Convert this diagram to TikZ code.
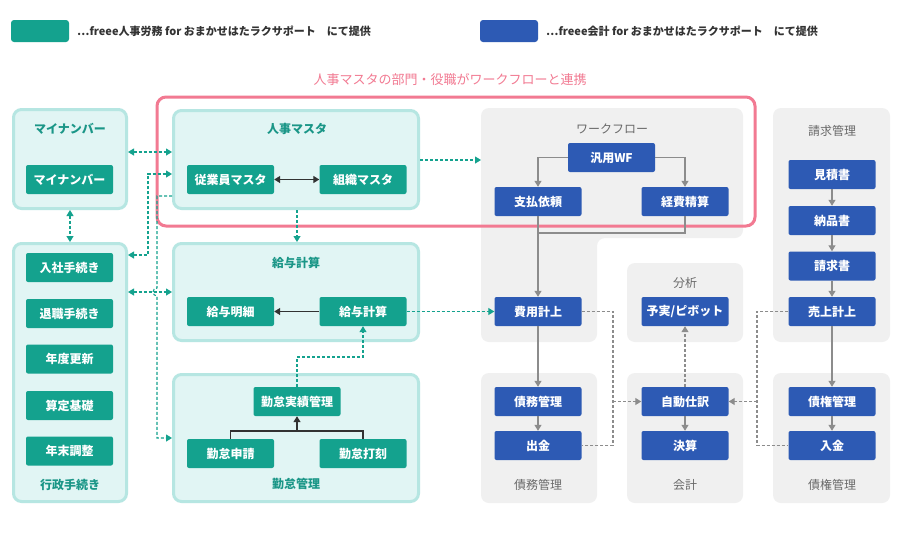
\documentclass[tikz,border=0pt]{standalone}
\usepackage{fontspec}
\setmainfont{Noto Sans CJK JP}
\usetikzlibrary{arrows.meta}
\definecolor{teal1}{RGB}{20,162,142}
\definecolor{tpfill}{RGB}{225,245,244}
\definecolor{tpline}{RGB}{182,230,226}
\definecolor{blue1}{RGB}{45,90,180}
\definecolor{gpfill}{RGB}{240,240,240}
\definecolor{gline}{RGB}{140,140,140}
\definecolor{pink1}{RGB}{242,122,146}
\definecolor{dark1}{RGB}{50,50,50}
\definecolor{ttext}{RGB}{26,150,135}
\definecolor{gtext}{RGB}{105,105,105}
\definecolor{ltext}{RGB}{51,51,51}
\tikzset{
  tbox/.style={fill=teal1,text=white,font=\bfseries\fontsize{12}{12}\selectfont,rounded corners=2,minimum width=87,minimum height=29,inner sep=0},
  bbox/.style={tbox,fill=blue1},
  tpanel/.style={fill=tpfill,draw=tpline,line width=3,rounded corners=8,inner sep=0},
  gpanel/.style={fill=gpfill,rounded corners=8,inner sep=0},
  ttitle/.style={text=ttext,font=\bfseries\fontsize{12}{12}\selectfont,inner sep=0},
  gtitle/.style={text=gtext,font=\fontsize{12}{12}\selectfont,inner sep=0},
  tdash/.style={draw=teal1,line width=1.1,dash pattern=on 3 off 2},
  gdash/.style={draw=gline,line width=1.1,dash pattern=on 3 off 2},
  gsolid/.style={draw=gline,line width=1.2},
  dsolid/.style={draw=dark1,line width=1.3},
  tip/.style={-{Triangle[width=7,length=6]}},
  tips/.style={{Triangle[width=7,length=6]}-{Triangle[width=7,length=6]}}
}
\begin{document}
\begin{tikzpicture}[x=1pt,y=-1pt]
\useasboundingbox (0,0) rectangle (900,536);
\fill[white] (0,0) rectangle (900,536);
% legend
\node[fill=teal1,rounded corners=3,minimum width=58,minimum height=22,inner sep=0] (legT) at (40,31) {};
\node[anchor=west,text=ltext,font=\bfseries\fontsize{11}{11}\selectfont,inner sep=0] (legTt) at (77,31) {…freee人事労務 for おまかせはたラクサポート　にて提供};
\node[fill=blue1,rounded corners=3,minimum width=58,minimum height=22,inner sep=0] (legB) at (509,31) {};
\node[anchor=west,text=ltext,font=\bfseries\fontsize{11}{11}\selectfont,inner sep=0] (legBt) at (546,31) {…freee会計 for おまかせはたラクサポート　にて提供};
% pink title
\node[text=pink1,font=\fontsize{13}{13}\selectfont,inner sep=0] (pinkt) at (450,80) {人事マスタの部門・役職がワークフローと連携};
% teal panels
\node[tpanel,minimum width=113,minimum height=99] (mnP) at (70,159) {};
\node[tpanel,minimum width=113,minimum height=258] (gyP) at (70,372.5) {};
\node[tpanel,minimum width=245,minimum height=98] (jmP) at (296,159.5) {};
\node[tpanel,minimum width=245,minimum height=97] (kyP) at (296,292) {};
\node[tpanel,minimum width=245,minimum height=127] (kinP) at (296,438) {};
% gray panels
\fill[gpfill,rounded corners=8] (481,108) -- (743,108) -- (743,238) -- (597,238) -- (597,342) -- (481,342) -- cycle;
\coordinate (wfL) at (481,160);
\node[gpanel,minimum width=116,minimum height=79] (bnP) at (685,302.5) {};
\node[gpanel,minimum width=116,minimum height=130] (smP) at (539,438) {};
\node[gpanel,minimum width=116,minimum height=130] (kkP) at (685,438) {};
\node[gpanel,minimum width=117,minimum height=234] (skP) at (831.5,225) {};
\node[gpanel,minimum width=117,minimum height=130] (sknP) at (831.5,438) {};
% pink frame
\draw[pink1,line width=3,rounded corners=9] (157,97) rectangle (755,226);
% titles
\node[ttitle] (mnT) at (70,129) {マイナンバー};
\node[ttitle] (jmT) at (297,129) {人事マスタ};
\node[ttitle] (kyT) at (296,263) {給与計算};
\node[ttitle] (kinT) at (296,484) {勤怠管理};
\node[ttitle] (gyT) at (70,485) {行政手続き};
\node[gtitle] (wfT) at (612,129) {ワークフロー};
\node[gtitle] (bnT) at (685,283) {分析};
\node[gtitle] (smT) at (538,485) {債務管理};
\node[gtitle] (kkT) at (685,485) {会計};
\node[gtitle] (skT) at (832,131) {請求管理};
\node[gtitle] (sknT) at (832,485) {債権管理};
% teal boxes
\node[tbox] (mnB) at (69.5,179.5) {マイナンバー};
\node[tbox] (jyB) at (230.5,179.5) {従業員マスタ};
\node[tbox] (soB) at (363,179.5) {組織マスタ};
\node[tbox] (g1) at (69.5,267.5) {入社手続き};
\node[tbox] (g2) at (69.5,313.5) {退職手続き};
\node[tbox] (g3) at (69.5,359) {年度更新};
\node[tbox] (g4) at (69.5,405.5) {算定基礎};
\node[tbox] (g5) at (69.5,451) {年末調整};
\node[tbox] (kmB) at (230.5,311.5) {給与明細};
\node[tbox] (kyB) at (363,311.5) {給与計算};
\node[tbox] (kjB) at (297,401.5) {勤怠実績管理};
\node[tbox] (ksB) at (230.5,453.5) {勤怠申請};
\node[tbox] (kdB) at (363,453.5) {勤怠打刻};
% blue boxes
\node[bbox] (wfB) at (611.5,157.5) {汎用WF};
\node[bbox] (shB) at (538,201.5) {支払依頼};
\node[bbox] (keB) at (685,201.5) {経費精算};
\node[bbox] (hiB) at (538,311.5) {費用計上};
\node[bbox] (yjB) at (685,311.5) {予実/ピボット};
\node[bbox] (saB) at (538,401.5) {債務管理};
\node[bbox] (shkB) at (538,445.5) {出金};
\node[bbox] (jdB) at (685,401.5) {自動仕訳};
\node[bbox] (kesB) at (685,445.5) {決算};
\node[bbox] (miB) at (832,174.5) {見積書};
\node[bbox] (noB) at (832,220.5) {納品書};
\node[bbox] (seB) at (832,266) {請求書};
\node[bbox] (urB) at (832,311.5) {売上計上};
\node[bbox] (skB) at (832,401.5) {債権管理};
\node[bbox] (nyB) at (832,445.5) {入金};
% teal dashed connectors
\draw[tdash,tips] (mnP.east |- 0,152) -- (jmP.west |- 0,152);
\draw[tdash,tips] (mnP.south) -- (gyP.north);
\draw[tdash,tips] (gyP.east |- 0,255) -- (148,255) -- (148,174) -- (jmP.west |- 0,174);
\draw[tdash,tips] (gyP.east |- 0,292) -- (kyP.west |- 0,292);
\draw[tdash,tip] (jmP.west |- 0,196) -- (157,196) -- (157,288) arc[start angle=270,end angle=90,radius=4] -- (157,438) -- (kinP.west |- 0,438);
\draw[tdash,tip] (jmP.east |- 0,160) -- (wfL);
\draw[tdash,tip] (297,210) -- (kyP.north -| 297,0);
\draw[tdash,tip] (kyB.east) -- (hiB.west);
\draw[tdash,tip] (kjB.north) -- (kjB.north |- 0,357) -- (kyB.south |- 0,357) -- (kyB.south);
% dark solid
\draw[dsolid,tips] (jyB.east) -- (soB.west);
\draw[dsolid,tip] (kyB.west) -- (kmB.east);
\draw[dsolid] (ksB.north) -- (ksB.north |- 0,431) -- (kdB.north |- 0,431) -- (kdB.north);
\draw[dsolid,tip] (kjB.south |- 0,431) -- (kjB.south);
% gray solid
\draw[gsolid,tip] (wfB.west) -| (shB.north);
\draw[gsolid,tip] (wfB.east) -| (keB.north);
\draw[gsolid] (keB.south) -- (keB.south |- 0,233) -- (shB.south |- 0,233);
\draw[gsolid,tip] (shB.south) -- (hiB.north);
\draw[gsolid,tip] (hiB.south) -- (saB.north);
\draw[gsolid,tip] (saB.south) -- (shkB.north);
\draw[gsolid,tip] (jdB.south) -- (kesB.north);
\draw[gsolid,tip] (miB.south) -- (noB.north);
\draw[gsolid,tip] (noB.south) -- (seB.north);
\draw[gsolid,tip] (seB.south) -- (urB.north);
\draw[gsolid,tip] (urB.south) -- (skB.north);
\draw[gsolid,tip] (skB.south) -- (nyB.north);
% gray dashed
\draw[gdash] (hiB.east) -- (613,311.5) -- (613,445.5) -- (shkB.east);
\draw[gdash,tip] (613,401.5) -- (jdB.west);
\draw[gdash] (urB.west) -- (757,311.5) -- (757,445.5) -- (nyB.west);
\draw[gdash,tip] (757,401.5) -- (jdB.east);
\draw[gdash,tip] (jdB.north) -- (yjB.south);
\end{tikzpicture}
\end{document}
